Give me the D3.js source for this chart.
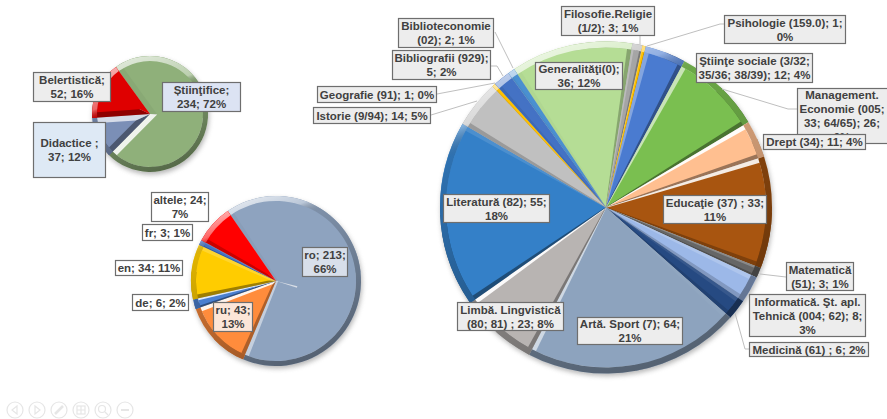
<!DOCTYPE html>
<html><head><meta charset="utf-8">
<style>html,body{margin:0;padding:0;background:#fff;overflow:hidden}svg{display:block}
text{font-family:"Liberation Sans",Arial,sans-serif;font-weight:bold;font-size:11.5px;fill:#404040}</style>
<script src="https://cdnjs.cloudflare.com/ajax/libs/d3/7.8.5/d3.min.js"></script>
</head><body><svg id="c" width="887" height="419"></svg>
<script>
// ---------- data ----------
const typeCategories = ["Știinţifice","Didactice","Belertistică"];
const typeValues = [234,37,52];
const typeColors = ["#8fb07a","#7b8fb6","#df0000"];

const langCategories = ["ro","ru","de","en","fr","altele"];
const langValues = [213,43,6,34,3,24];
const langColors = ["#8ea3bf","#ff8c3c","#4a7fd0","#ffcc00","#4472c4","#ff0000"];

const domainCategories = ["Generalități","Filosofie","Psihologie","Științe sociale","Management","Drept","Educație","Matematică","Informatică","Medicină","Artă","Limbă","Literatură","Istorie","Geografie","Bibliografii","Biblioteconomie"];
const domainValues = [36,3,1,12,26,11,33,3,8,6,64,23,55,14,1,5,2];
const domainColors = ["#b5dd95","#a5a5a5","#ffc000","#4a7bd0","#7abf50","#ffbf90","#a85510","#666666","#9cb8e8","#264a82","#8da3be","#b8b4b2","#3480c8","#c0c0c0","#ffc000","#4472c4","#4a90d0"];

// label text, line by line
const labelLines = {
  t0:["Știinţifice;","234; 72%"], t1:["Didactice ;","37; 12%"], t2:["Belertistică;","52; 16%"],
  l0:["ro; 213;","66%"], l1:["ru; 43;","13%"], l2:["de; 6; 2%"], l3:["en; 34; 11%"], l4:["fr; 3; 1%"], l5:["altele; 24;","7%"],
  d0:["Generalităţi(0);","36; 12%"], d1:["Filosofie.Religie","(1/2); 3; 1%"], d2:["Psihologie (159.0); 1;","0%"],
  d3:["Ştiinţe sociale (3/32;","35/36; 38/39); 12; 4%"], d4:["Management.","Economie (005;","33; 64/65); 26;","9%"],
  d5:["Drept (34); 11; 4%"], d6:["Educaţie (37) ; 33;","11%"], d7:["Matematică","(51); 3; 1%"],
  d8:["Informatică. Şt. apl.","Tehnică (004; 62); 8;","3%"], d9:["Medicină (61) ; 6; 2%"], d10:["Artă. Sport (7); 64;","21%"],
  d11:["Limbă. Lingvistică","(80; 81) ; 23; 8%"], d12:["Literatură (82); 55;","18%"], d13:["Istorie (9/94); 14; 5%"],
  d14:["Geografie (91); 1; 0%"], d15:["Bibliografii (929);","5; 2%"], d16:["Biblioteconomie","(02); 2; 1%"]
};

// ---------- layout ----------
const pies = [
  {id:"t",cx:150,cy:114,R:58,rim:5,w:5.5,k:1,lit:.3,start:-36,values:typeValues,colors:typeColors},
  {id:"l",cx:276,cy:281,R:85,rim:5,w:4,k:.5,lit:.12,start:-34.6,values:langValues,colors:langColors},
  {id:"d",cx:606,cy:207.5,R:166,rim:6,w:4.5,k:.1,lit:.12,start:-33.6,values:domainValues,colors:domainColors}
];
const boxes = [ // key, x0, y0, x1, y1, fill
  ["t2",33,72,111,102,"#ededed"],["t0",162,82,241,112,"#dce3f3"],["t1",33,122,106,178,"#dee9f5"],
  ["l5",151,192,209,222,"#fff"],["l4",142,224,193,241,"#fff"],["l3",115,260,183,276,"#fff"],["l2",132,294,189,311,"#fff"],
  ["l1",213,302,253,332,"#fce6d8"],["l0",302,247,348,277,"#d8dfea"],
  ["d16",398,18,494,48,"#ededed"],["d15",392,50,491,80,"#ededed"],["d14",317,86,437,103,"#ededed"],["d13",313,107,431,124,"#ededed"],
  ["d0",535,62,623,90,"#ededed"],["d1",561,6,655,36,"#ededed"],["d2",724,15,846,44,"#ededed"],["d3",696,53,813,83,"#ededed"],
  ["d4",797,88,893,144,"#ededed"],["d5",763,134,866,150,"#ededed"],["d6",663,195,767,224,"#ededed"],["d7",786,262,854,291,"#ededed"],
  ["d8",749,294,866,337,"#ededed"],["d9",749,342,869,357,"#ededed"],["d10",577,317,683,345,"#ededed"],["d11",457,302,564,331,"#ededed"],
  ["d12",443,194,550,223,"#ededed"]
];
const leaders = [
  [[495,32],[513,68]],[[491,66],[497,66],[503,76]],[[437,94],[495,83]],[[431,115],[477,101]],[[640,36],[640,45]],
  [[724,24],[720,24],[647,46]],[[797,109],[788,109],[722,89]],[[786,277],[760,274]],[[749,349],[745,349],[735,313]]
];
const navX = [15,37,59,81,103,125], navY = 410;

// ---------- drawing ----------
const svg = d3.select("#c"), defs = svg.append("defs");
defs.append("filter").attr("id","sh").attr("x","-20%").attr("y","-20%").attr("width","140%").attr("height","140%")
  .append("feGaussianBlur").attr("stdDeviation",2.5);
const rad = d => d*Math.PI/180, lightAngle = -30;
function shade(color,normal){
  const dot = Math.cos(rad(normal-lightAngle));
  return dot>0 ? d3.interpolateRgb(color,"#fff")(.95*dot*dot*dot) : d3.interpolateRgb(color,"#000")(.4*-dot);
}
pies.forEach(p=>{
  const g = svg.append("g").attr("transform",`translate(${p.cx},${p.cy})`);
  const grad = defs.append("linearGradient").attr("id","rim"+p.id).attr("gradientUnits","userSpaceOnUse")
    .attr("x1",-p.R*.34).attr("y1",-p.R*.94).attr("x2",p.R*.34).attr("y2",p.R*.94);
  [[0,"#fff",.7],[p.lit,"#fff",.4],[p.lit+.08,"#000",.12],[1,"#000",.4]].forEach(s=>
    grad.append("stop").attr("offset",s[0]).attr("stop-color",s[1]).attr("stop-opacity",s[2]));
  g.append("circle").attr("cx",1).attr("cy",2.5).attr("r",p.R).attr("fill","#777").attr("opacity",.55).attr("filter","url(#sh)");
  const arcs = d3.pie().sort(null).startAngle(rad(p.start)).endAngle(rad(p.start+360))(p.values);
  const arc = d3.arc();
  arcs.forEach((a,i)=>{
    const c = p.colors[i], a0=a.startAngle, a1=a.endAngle, mid=(a0+a1)/2, th=a1-a0;
    g.append("path").attr("fill",shade(c,a0*180/Math.PI-90))
      .attr("d",arc({innerRadius:0,outerRadius:p.R,startAngle:a0,endAngle:mid}));
    g.append("path").attr("fill",shade(c,a1*180/Math.PI+90))
      .attr("d",arc({innerRadius:0,outerRadius:p.R,startAngle:mid,endAngle:a1}));
    // inner face: sides inset from the slice edges
    const Rf = p.R-p.rim, wi = Math.min(p.w, Rf*Math.sin(Math.min(th,Math.PI)/2)*.42);
    const off = p.k*wi/Math.sin(th/2), dl = Math.asin(wi/Rf);
    const ax = off*Math.sin(mid), ay = -off*Math.cos(mid);
    const P = d3.path(); P.moveTo(ax,ay);
    P.arc(0,0,Rf,a0+dl-Math.PI/2,a1-dl-Math.PI/2); P.closePath();
    g.append("path").attr("fill",c).attr("d",P.toString());
    // outer rim
    const rimD = arc({innerRadius:Rf,outerRadius:p.R,startAngle:a0,endAngle:a1});
    g.append("path").attr("fill",c).attr("d",rimD);
    g.append("path").attr("fill",`url(#rim${p.id})`).attr("d",rimD);
  });
  if(p.id==="l") g.append("path").attr("fill","#d9dee6")
    .attr("d",arc({innerRadius:0,outerRadius:22,startAngle:rad(104),endAngle:rad(108)}));
});

const line = d3.line();
svg.append("g").selectAll("path").data(leaders).join("path").attr("d",line)
  .attr("fill","none").attr("stroke","#bfbfbf").attr("stroke-width",1);

const lh = 14;
boxes.forEach(b=>{
  const [k,x0,y0,x1,y1,fill]=b, g=svg.append("g"), lines=labelLines[k];
  g.append("rect").attr("x",x0+.5).attr("y",y0+.5).attr("width",x1-x0-1).attr("height",y1-y0-1)
    .attr("fill",fill).attr("stroke","#6e6e6e").attr("stroke-width",1.2);
  const cx=(x0+x1)/2 - (x1>887?3:0);
  const top=(y0+y1)/2-(lines.length-1)*lh/2+4;
  g.selectAll("text").data(lines).join("text").attr("x",cx).attr("y",(d,i)=>top+i*lh)
    .attr("text-anchor","middle").text(d=>d);
});

const nav = svg.append("g").attr("fill","none").attr("stroke","#e6e6e6").attr("stroke-width",1.2);
navX.forEach(x=>nav.append("circle").attr("cx",x).attr("cy",navY).attr("r",8));
nav.append("path").attr("d",`M${navX[0]+2},${navY-4}L${navX[0]-3},${navY}L${navX[0]+2},${navY+4}Z`);
nav.append("path").attr("d",`M${navX[1]-2},${navY-4}L${navX[1]+3},${navY}L${navX[1]-2},${navY+4}Z`);
nav.append("path").attr("stroke-width",2.5).attr("d",`M${navX[2]-4},${navY+4}L${navX[2]+4},${navY-4}`);
nav.append("rect").attr("x",navX[3]-4).attr("y",navY-4).attr("width",8).attr("height",8);
nav.append("path").attr("d",`M${navX[3]},${navY-4}V${navY+4}M${navX[3]-4},${navY}H${navX[3]+4}`);
nav.append("circle").attr("cx",navX[4]-1).attr("cy",navY-1).attr("r",3.5);
nav.append("path").attr("d",`M${navX[4]+2},${navY+2}L${navX[4]+5},${navY+5}`);
nav.append("path").attr("stroke-width",2).attr("d",`M${navX[5]-4},${navY}H${navX[5]+4}`);
</script></body></html>
